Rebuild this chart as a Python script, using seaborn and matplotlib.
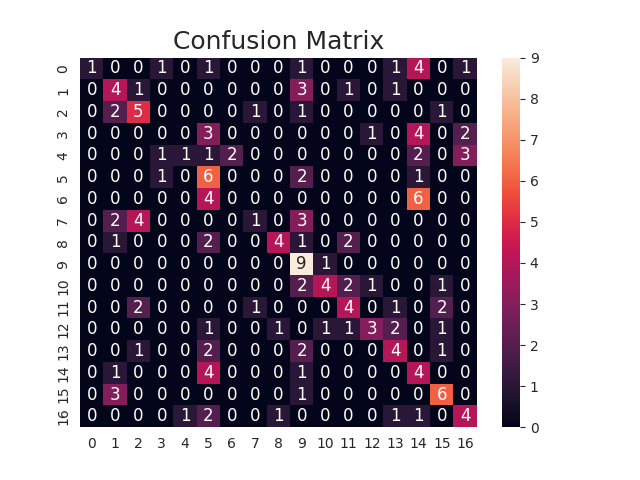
import numpy as np
import matplotlib
matplotlib.use("Agg")
import matplotlib.pyplot as plt
import seaborn as sns

sns.set_style("darkgrid")

labels = list(range(17))
row_0 = [1, 0, 0, 1, 0, 1, 0, 0, 0, 1, 0, 0, 0, 1, 4, 0, 1]
row_1 = [0, 4, 1, 0, 0, 0, 0, 0, 0, 3, 0, 1, 0, 1, 0, 0, 0]
row_2 = [0, 2, 5, 0, 0, 0, 0, 1, 0, 1, 0, 0, 0, 0, 0, 1, 0]
row_3 = [0, 0, 0, 0, 0, 3, 0, 0, 0, 0, 0, 0, 1, 0, 4, 0, 2]
row_4 = [0, 0, 0, 1, 1, 1, 2, 0, 0, 0, 0, 0, 0, 0, 2, 0, 3]
row_5 = [0, 0, 0, 1, 0, 6, 0, 0, 0, 2, 0, 0, 0, 0, 1, 0, 0]
row_6 = [0, 0, 0, 0, 0, 4, 0, 0, 0, 0, 0, 0, 0, 0, 6, 0, 0]
row_7 = [0, 2, 4, 0, 0, 0, 0, 1, 0, 3, 0, 0, 0, 0, 0, 0, 0]
row_8 = [0, 1, 0, 0, 0, 2, 0, 0, 4, 1, 0, 2, 0, 0, 0, 0, 0]
row_9 = [0, 0, 0, 0, 0, 0, 0, 0, 0, 9, 1, 0, 0, 0, 0, 0, 0]
row_10 = [0, 0, 0, 0, 0, 0, 0, 0, 0, 2, 4, 2, 1, 0, 0, 1, 0]
row_11 = [0, 0, 2, 0, 0, 0, 0, 1, 0, 0, 0, 4, 0, 1, 0, 2, 0]
row_12 = [0, 0, 0, 0, 0, 1, 0, 0, 1, 0, 1, 1, 3, 2, 0, 1, 0]
row_13 = [0, 0, 1, 0, 0, 2, 0, 0, 0, 2, 0, 0, 0, 4, 0, 1, 0]
row_14 = [0, 1, 0, 0, 0, 4, 0, 0, 0, 1, 0, 0, 0, 0, 4, 0, 0]
row_15 = [0, 3, 0, 0, 0, 0, 0, 0, 0, 1, 0, 0, 0, 0, 0, 6, 0]
row_16 = [0, 0, 0, 0, 1, 2, 0, 0, 1, 0, 0, 0, 0, 1, 1, 0, 4]

cm = np.array([row_0, row_1, row_2, row_3, row_4, row_5, row_6, row_7, row_8,
               row_9, row_10, row_11, row_12, row_13, row_14, row_15, row_16])

fig, ax = plt.subplots(figsize=(6.4, 4.8), dpi=100)
sns.heatmap(cm, annot=True, fmt="d", ax=ax, xticklabels=labels, yticklabels=labels,
            annot_kws={"size": 12})
ax.set_title("Confusion Matrix", fontsize=18)
plt.savefig("out.png")
